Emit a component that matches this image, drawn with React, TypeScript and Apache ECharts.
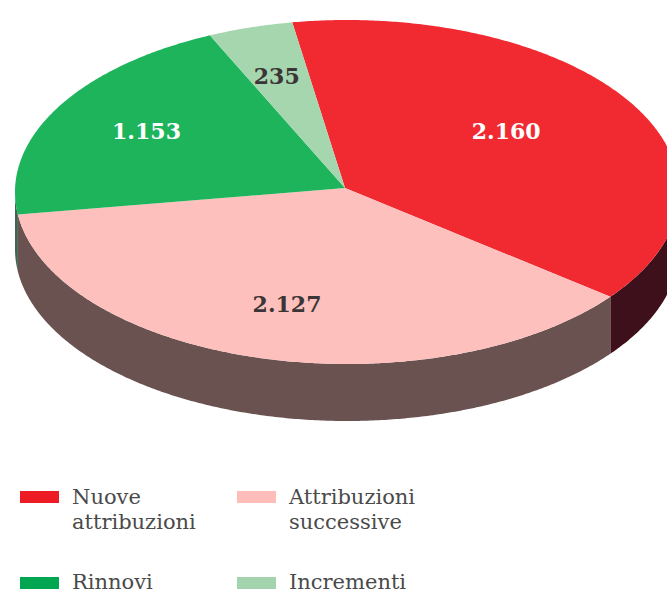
import React, { useEffect, useRef } from "react";
import * as echarts from "echarts";

const categories = ["Nuove attribuzioni", "Attribuzioni successive", "Rinnovi", "Incrementi"];
const values = [2160, 2127, 1153, 235];
const valueLabels = ["2.160", "2.127", "1.153", "235"];
const legendLines = [["Nuove", "attribuzioni"], ["Attribuzioni", "successive"], ["Rinnovi"], ["Incrementi"]];
const topColors = ["#f12a32", "#fdc0bd", "#1eb45c", "#a5d6ae"];
const wallColors = ["#3e101b", "#6a5251", "#3f6350", "#7a9a85"];
const legendColors = ["#ed1c24", "#ffbdb9", "#00a651", "#a3d4ae"];
const labelColors = ["#ffffff", "#3b3537", "#ffffff", "#3b3537"];

const CX = 347, CY = 192, RX = 332, RY = 172, DEPTH = 57, START = -9.5;
const APEX_X = 345, APEX_Y = 188;
const labelRadius = [0.6, 0.675, 0.694, 0.705];
const labelAngleShift = [-5, 0, 1.5, 0];
const legendPos = [[20, 497], [237, 497], [20, 581.5], [237, 581.5]];
const SERIF = "'DejaVu Serif', serif";
const total = values.reduce((a, b) => a + b, 0);

const span = (i: number) => {
  let s = START;
  for (let k = 0; k < i; k++) s += (values[k] / total) * 360;
  return [s, s + (values[i] / total) * 360];
};
const pt = (deg: number, dy = 0, r = 1, cx = CX): number[] => {
  const a = (deg * Math.PI) / 180;
  return [cx + RX * r * Math.sin(a), CY - RY * r * Math.cos(a) + dy];
};
const arcPts = (a: number, b: number, dy = 0) => {
  const out: number[][] = [];
  const n = Math.max(1, Math.ceil(Math.abs(b - a) * 2));
  for (let j = 0; j <= n; j++) out.push(pt(a + ((b - a) * j) / n, dy));
  return out;
};

const renderWall = (p: any) => {
  const [a, b] = span(p.dataIndex);
  const lo = Math.max(a, 90), hi = Math.min(b, 270);
  if (hi <= lo) return { type: "group", children: [] };
  return {
    type: "polygon",
    shape: { points: [...arcPts(lo, hi), ...arcPts(hi, lo, DEPTH)] },
    style: { fill: wallColors[p.dataIndex] },
  };
};
const renderTop = (p: any) => {
  const [a, b] = span(p.dataIndex);
  const [lx, ly] = pt((a + b) / 2 + labelAngleShift[p.dataIndex], 0, labelRadius[p.dataIndex], APEX_X);
  return {
    type: "group",
    children: [
      {
        type: "polygon",
        shape: { points: [[APEX_X, APEX_Y], ...arcPts(a, b)] },
        style: { fill: topColors[p.dataIndex] },
      },
      {
        type: "text",
        z2: 10,
        style: {
          x: lx, y: ly, text: valueLabels[p.dataIndex], align: "center", verticalAlign: "middle",
          fill: labelColors[p.dataIndex], font: `bold 22px ${SERIF}`,
        },
      },
    ],
  };
};

export default function App() {
  const ref = useRef<HTMLDivElement>(null);
  useEffect(() => {
    document.body.style.margin = "0";
    const chart = echarts.init(ref.current!, undefined, { renderer: "svg" });
    const legend: any[] = [];
    categories.forEach((_, i) => {
      const [x, y] = legendPos[i];
      legend.push({ type: "rect", x, y: y - 6 + (i > 1 ? 1.5 : 0), shape: { width: 39, height: 12 }, style: { fill: legendColors[i] } });
      legendLines[i].forEach((line, j) =>
        legend.push({
          type: "text", x: x + 52, y: y + j * 25,
          style: { text: line, fill: "#4a4a4a", font: `21px ${SERIF}`, verticalAlign: "middle", align: "left" },
        })
      );
    });
    chart.setOption({
      animation: false,
      backgroundColor: "#ffffff",
      series: [
        { type: "custom", coordinateSystem: "none", z: 1, data: values, renderItem: renderWall, silent: true },
        { type: "custom", coordinateSystem: "none", z: 2, data: values, renderItem: renderTop, silent: true },
      ],
      graphic: legend,
    });
    return () => chart.dispose();
  }, []);
  return <div ref={ref} style={{ width: 667, height: 592 }} />;
}
